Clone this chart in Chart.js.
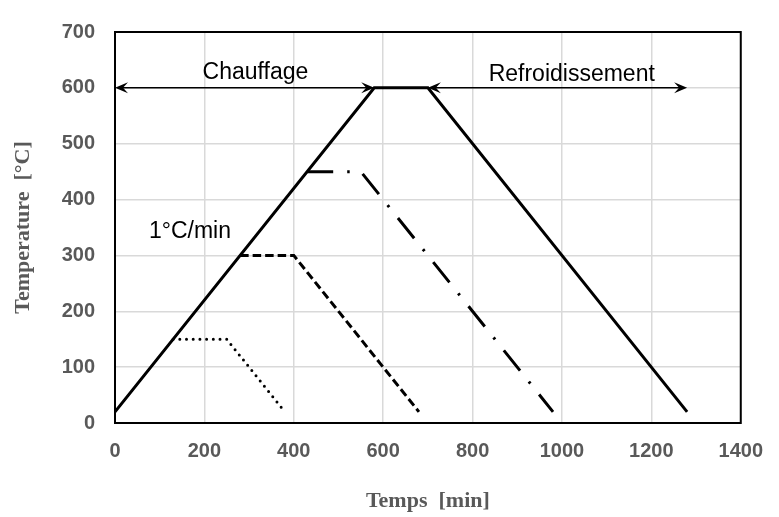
<!DOCTYPE html>
<html>
<head>
<meta charset="utf-8">
<script src="https://cdn.jsdelivr.net/npm/chart.js@4"></script>
<style>
  body { margin: 0; background: #fff; }
</style>
</head>
<body>
<canvas id="chart" width="779" height="517"></canvas>
<script>
// heating / cooling profiles (time in min, temperature in °C)
const solidX = [0, 580, 700, 1280];
const solidY = [20, 600, 600, 20];
const dottedX = [130, 250, 380];
const dottedY = [150, 150, 20];
const dashedX = [280, 400, 680];
const dashedY = [300, 300, 20];
const dashDotX = [430, 550, 980];
const dashDotY = [450, 450, 20];

// double arrows at 600 °C
const arrowStarts = [0, 700];
const arrowEnds = [580, 1280];
const arrowLevel = 600;

// labels: text, x, y (data units, left/baseline)
const noteTexts = ["Chauffage", "Refroidissement", "1°C/min"];
const noteX = [196, 836, 76];
const noteY = [615, 612, 331];

const xTicks = [0, 200, 400, 600, 800, 1000, 1200, 1400];
const yTicks = [0, 100, 200, 300, 400, 500, 600, 700];

const toPoints = (xs, ys) => xs.map((x, i) => ({ x: x, y: ys[i] }));

function arrowHead(ctx, x, y, dir) {
  ctx.beginPath();
  ctx.moveTo(x, y);
  ctx.lineTo(x - dir * 13, y - 5.5);
  ctx.lineTo(x - dir * 8, y);
  ctx.lineTo(x - dir * 13, y + 5.5);
  ctx.closePath();
  ctx.fill();
}

const framePlugin = {
  id: "frame",
  beforeDatasetsDraw(chart) {
    const { ctx, chartArea: a } = chart;
    ctx.save();
    ctx.strokeStyle = "#000";
    ctx.lineWidth = 2;
    ctx.strokeRect(a.left, a.top, a.right - a.left, a.bottom - a.top);
    ctx.restore();
  },
  afterDatasetsDraw(chart) {
    const { ctx } = chart;
    const xs = chart.scales.x, ys = chart.scales.y;
    ctx.save();
    ctx.strokeStyle = "#000";
    ctx.fillStyle = "#000";
    ctx.lineWidth = 1.5;
    const py = ys.getPixelForValue(arrowLevel);
    arrowStarts.forEach((s, i) => {
      const x1 = xs.getPixelForValue(s);
      const x2 = xs.getPixelForValue(arrowEnds[i]);
      ctx.beginPath();
      ctx.moveTo(x1 + 6, py);
      ctx.lineTo(x2 - 6, py);
      ctx.stroke();
      arrowHead(ctx, x1, py, -1);
      arrowHead(ctx, x2, py, 1);
    });
    ctx.font = "23px 'Liberation Sans', Arial, sans-serif";
    ctx.textAlign = "left";
    ctx.textBaseline = "alphabetic";
    noteTexts.forEach((t, i) => {
      ctx.fillText(t, xs.getPixelForValue(noteX[i]), ys.getPixelForValue(noteY[i]));
    });
    ctx.restore();
  }
};

const tickFont = { family: "'Liberation Sans', Arial, sans-serif", size: 20, weight: "bold" };
const titleFont = { family: "'Liberation Serif', 'Times New Roman', serif", size: 22, weight: "bold" };
const gridStyle = { color: "#d9d9d9", lineWidth: 1.5, drawTicks: false };

new Chart(document.getElementById("chart"), {
  type: "line",
  data: {
    datasets: [
      { data: toPoints(solidX, solidY), borderColor: "#000", borderWidth: 3, borderJoinStyle: "miter" },
      { data: toPoints(dottedX, dottedY), borderColor: "#000", borderWidth: 3, borderDash: [0, 6.7], borderCapStyle: "round" },
      { data: toPoints(dashedX, dashedY), borderColor: "#000", borderWidth: 3, borderDash: [8.5, 4] },
      { data: toPoints(dashDotX, dashDotY), borderColor: "#000", borderWidth: 3, borderDash: [26, 14, 2.5, 14] }
    ]
  },
  options: {
    responsive: false,
    animation: false,
    layout: { padding: { top: 19, right: 35.5, left: 0, bottom: 0 } },
    elements: { point: { radius: 0 }, line: { tension: 0 } },
    plugins: { legend: { display: false }, tooltip: { enabled: false } },
    scales: {
      x: {
        type: "linear",
        min: 0,
        max: 1400,
        afterBuildTicks: (s) => { s.ticks = xTicks.map((v) => ({ value: v })); },
        afterFit: (s) => { s.height = 94; },
        grid: gridStyle,
        border: { display: false },
        ticks: { font: tickFont, color: "#595959", padding: 16, maxRotation: 0, callback: (v) => String(v) },
        title: { display: true, text: "Temps  [min]", font: titleFont, color: "#595959", padding: { top: 0, bottom: 2 } }
      },
      y: {
        type: "linear",
        min: 0,
        max: 700,
        afterBuildTicks: (s) => { s.ticks = yTicks.map((v) => ({ value: v })); },
        afterFit: (s) => { s.width = 115; },
        grid: gridStyle,
        border: { display: false },
        ticks: { font: tickFont, color: "#595959", padding: 20, callback: (v) => String(v) },
        title: { display: true, text: "Temperature  [°C]", font: titleFont, color: "#595959", padding: { top: 10, bottom: 0 } }
      }
    }
  },
  plugins: [framePlugin]
});
</script>
</body>
</html>
